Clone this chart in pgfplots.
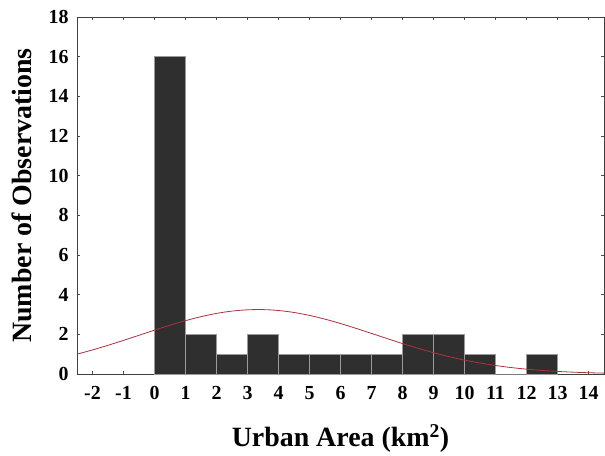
\documentclass[border=0pt]{standalone}
\usepackage{fontspec}
\setmainfont{Liberation Serif}
\usepackage{pgfplots}
\pgfplotsset{compat=1.18}
\definecolor{barfill}{HTML}{2F2F2F}
\definecolor{barline}{HTML}{9A9A9A}
\definecolor{fitred}{HTML}{B0303A}
\begin{document}
\begin{tikzpicture}
\begin{axis}[
  scale only axis,
  width=527bp, height=357bp,
  at={(0,0)}, anchor=south west,
  xmin=-2.5, xmax=14.5,
  ymin=0, ymax=18,
  xtick={-2,-1,...,14},
  ytick={0,2,...,18},
  tick align=inside,
  major tick length=3bp,
  tick style={draw=black!70, line width=0.6pt},
  axis line style={draw=black!75, line width=0.8pt},
  tick label style={font=\bfseries\fontsize{20}{20}\selectfont},
  /pgf/number format/assume math mode=true,
  xticklabel style={yshift=-9bp},
  yticklabel style={xshift=-5bp},
  xlabel={\bfseries Urban Area (km\textsuperscript{\bfseries 2})},
  ylabel={\bfseries Number of Observations},
  label style={font=\bfseries\fontsize{28}{28}\selectfont},
  xlabel style={yshift=-18bp},
  ylabel style={yshift=10bp},
  clip=false,
]
% histogram of observed areas, 1 km2 bins
\addplot[ybar interval, fill=barfill, draw=barline, line width=0.5pt]
  coordinates {(0,16) (1,2) (2,1) (3,2) (4,1) (5,1) (6,1) (7,1)
               (8,2) (9,2) (10,1) (11,0) (12,1) (13,1)};
% fitted normal curve
\addplot[fitred, line width=0.8pt, smooth] coordinates {
  (-2.5,1.000) (-2,1.214) (-1.5,1.447) (-1,1.696) (-0.5,1.953)
  (0,2.211) (0.5,2.460) (1,2.690) (1.5,2.891) (2,3.055)
  (2.5,3.172) (3,3.237) (3.5,3.247) (4,3.202) (4.5,3.102)
  (5,2.955) (5.5,2.766) (6,2.545) (6.5,2.302) (7,2.046)
  (7.5,1.788) (8,1.535) (8.5,1.296) (9,1.075) (9.5,0.877)
  (10,0.703) (10.5,0.554) (11,0.429) (11.5,0.326) (12,0.244)
  (12.5,0.179) (13,0.130) (13.5,0.092) (14,0.064) (14.5,0.044)};
\end{axis}
\path[use as bounding box] (-77bp,-78bp) rectangle (528bp,374bp);
\end{tikzpicture}
\end{document}
